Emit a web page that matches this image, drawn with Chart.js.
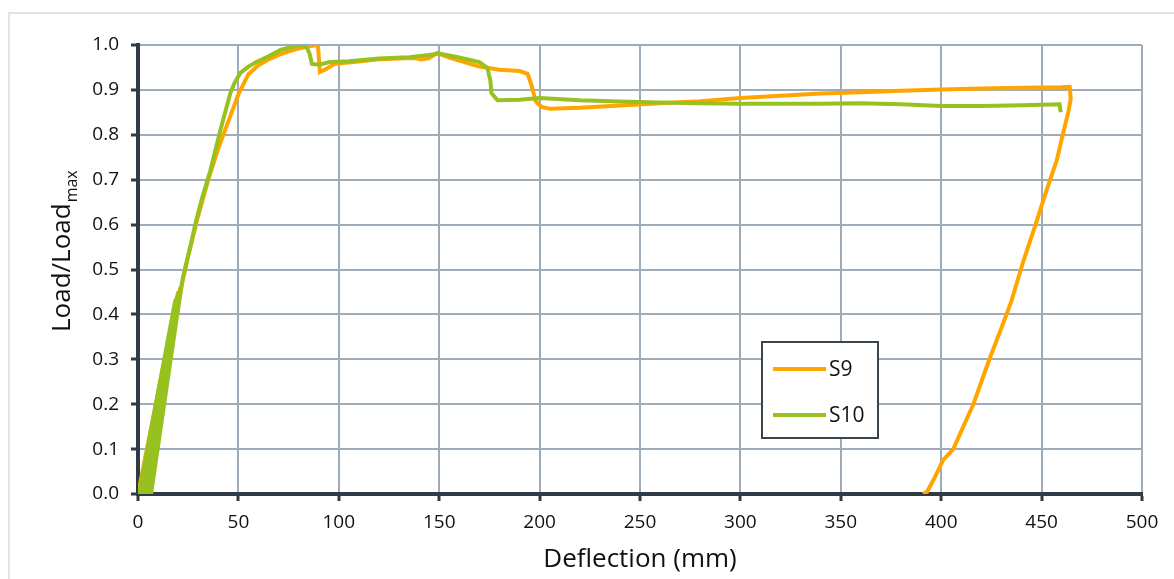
<!DOCTYPE html>
<html>
<head>
<meta charset="utf-8">
<script src="https://cdn.jsdelivr.net/npm/chart.js@4.4.1/dist/chart.umd.min.js"></script>
<style>
  html, body { margin: 0; padding: 0; background: #fff; }
  #wrap { position: relative; width: 1174px; height: 579px; }
  #frame { position: absolute; left: 8px; top: 12px; right: -4px; bottom: -4px; border: 2px solid #dfe3e7; }
  canvas { position: absolute; left: 0; top: 0; }
</style>
</head>
<body>
<div id="wrap">
  <div id="frame"></div>
  <canvas id="chart" width="1174" height="579"></canvas>
</div>
<script>
// S9 - deflection (mm) and load ratio
const s9X = [0, 20, 2, 20.5, 3.5, 21, 4.5, 22, 25, 30, 35, 40, 45, 50, 55, 60, 65, 70, 75, 80, 85, 89.6,
  90.6, 93, 98, 110, 120, 130, 138, 141, 145, 149, 155, 160, 170, 180, 190, 194, 196, 198, 201, 205,
  220, 240, 260, 280, 300, 320, 340, 360, 380, 400, 420, 440, 460, 464, 464.5, 463.5, 460, 457.6,
  452, 447, 441, 435, 430, 424, 420, 416, 411, 406, 401, 396, 393, 391];
const s9Y = [0, 0.45, 0, 0.45, 0, 0.46, 0, 0.47, 0.53, 0.62, 0.7, 0.77, 0.83, 0.89, 0.935, 0.955, 0.968, 0.978, 0.986, 0.992, 0.997, 1.0,
  0.94, 0.945, 0.958, 0.963, 0.968, 0.97, 0.971, 0.968, 0.971, 0.982, 0.972, 0.965, 0.952, 0.945, 0.942, 0.936, 0.91, 0.875, 0.862, 0.858,
  0.86, 0.865, 0.87, 0.875, 0.882, 0.887, 0.892, 0.895, 0.898, 0.901, 0.903, 0.905, 0.906, 0.907, 0.88, 0.855, 0.79, 0.744,
  0.67, 0.6, 0.52, 0.43, 0.37, 0.3, 0.25, 0.2, 0.15, 0.1, 0.076, 0.03, 0.005, 0];

// S10
const s10X = [0.5, 18.5, 1.5, 19, 2.5, 19.5, 3.5, 20, 4.5, 20.5, 5.5, 21, 6.5, 21.5, 22.4, 26, 29, 32, 36, 41, 46, 48, 51, 55, 59, 65, 71, 76, 80.7,
  84, 85.5, 86.6, 90, 95.6, 105, 120, 135, 145, 150, 160, 170, 174, 175.5, 176, 179, 190, 200, 220,
  240, 260, 280, 300, 320, 340, 360, 380, 400, 420, 440, 459, 459.5];
const s10Y = [0, 0.43, 0, 0.435, 0, 0.44, 0, 0.445, 0, 0.45, 0, 0.455, 0, 0.46, 0.483, 0.55, 0.61, 0.66, 0.72, 0.81, 0.893, 0.915, 0.938, 0.952, 0.962, 0.975, 0.989, 0.995, 1.0,
  0.995, 0.98, 0.958, 0.956, 0.962, 0.964, 0.97, 0.973, 0.978, 0.981, 0.972, 0.962, 0.949, 0.92, 0.893, 0.877, 0.878, 0.882, 0.877,
  0.874, 0.872, 0.87, 0.869, 0.869, 0.869, 0.87, 0.868, 0.864, 0.864, 0.866, 0.868, 0.85];

const xTicks = [0, 50, 100, 150, 200, 250, 300, 350, 400, 450, 500];
const yTicks = [0, 0.1, 0.2, 0.3, 0.4, 0.5, 0.6, 0.7, 0.8, 0.9, 1.0];

const toPoints = (xs, ys) => xs.map((x, i) => ({ x: x, y: ys[i] }));

const axisColor = '#2e3a46';
const gridColor = '#9eacb9';
const fontFamily = '"Open Sans", "DejaVu Sans", sans-serif';

// axis titles drawn by hand so that "max" can be a subscript
const titlesPlugin = {
  id: 'titles',
  afterDraw(chart) {
    const ctx = chart.ctx;
    const area = chart.chartArea;
    ctx.save();
    ctx.fillStyle = '#111';
    ctx.font = '26px ' + fontFamily;
    ctx.textAlign = 'center';
    ctx.textBaseline = 'middle';
    ctx.fillText('Deflection (mm)', (area.left + area.right) / 2, 560);

    ctx.translate(63, 332);
    ctx.rotate(-Math.PI / 2);
    ctx.textAlign = 'left';
    ctx.textBaseline = 'middle';
    ctx.font = '26px ' + fontFamily;
    const main = 'Load/Load';
    ctx.fillText(main, 0, 0);
    const w = ctx.measureText(main).width;
    ctx.font = '16px ' + fontFamily;
    ctx.fillText('max', w + 1, 9);
    ctx.restore();
  }
};

// legend box inside the plot
const legendPlugin = {
  id: 'boxLegend',
  afterDraw(chart) {
    const ctx = chart.ctx;
    const bx = 762, by = 342, bw = 116, bh = 96;
    ctx.save();
    ctx.fillStyle = '#fff';
    ctx.fillRect(bx, by, bw, bh);
    ctx.strokeStyle = '#3a4550';
    ctx.lineWidth = 2;
    ctx.strokeRect(bx, by, bw, bh);
    chart.data.datasets.forEach((ds, i) => {
      const y = by + 27 + i * 46;
      ctx.strokeStyle = ds.borderColor;
      ctx.lineWidth = 4;
      ctx.beginPath();
      ctx.moveTo(bx + 11, y);
      ctx.lineTo(bx + 64, y);
      ctx.stroke();
      ctx.fillStyle = '#111';
      ctx.font = '21px ' + fontFamily;
      ctx.textAlign = 'left';
      ctx.textBaseline = 'middle';
      ctx.fillText(ds.label, bx + 67, y + 1);
    });
    ctx.restore();
  }
};

new Chart(document.getElementById('chart'), {
  type: 'scatter',
  data: {
    datasets: [{
      label: 'S9',
      data: toPoints(s9X, s9Y),
      showLine: true,
      borderColor: '#ffa500',
      borderWidth: 4,
      pointRadius: 0,
      tension: 0,
      order: 1
    }, {
      label: 'S10',
      data: toPoints(s10X, s10Y),
      showLine: true,
      borderColor: '#96c11f',
      borderWidth: 4,
      pointRadius: 0,
      tension: 0,
      order: 0
    }]
  },
  options: {
    responsive: false,
    animation: false,
    layout: { padding: { top: 45, right: 32, left: 0, bottom: 0 } },
    plugins: {
      legend: { display: false },
      tooltip: { enabled: false }
    },
    scales: {
      x: {
        type: 'linear',
        min: xTicks[0],
        max: xTicks[xTicks.length - 1],
        afterBuildTicks: s => { s.ticks = xTicks.map(v => ({ value: v })); },
        afterFit: s => { s.height = 85; },
        ticks: { color: '#111', font: { family: fontFamily, size: 19 }, padding: 10 },
        grid: { color: gridColor, lineWidth: 2, tickColor: axisColor, tickLength: 7, tickWidth: 3 },
        border: { color: axisColor, width: 4 }
      },
      y: {
        type: 'linear',
        min: yTicks[0],
        max: yTicks[yTicks.length - 1],
        afterBuildTicks: s => { s.ticks = yTicks.map(v => ({ value: v })); },
        afterFit: s => { s.width = 138; },
        ticks: {
          color: '#111',
          font: { family: fontFamily, size: 19 },
          padding: 12,
          callback: v => v.toFixed(1)
        },
        grid: { color: gridColor, lineWidth: 2, tickColor: axisColor, tickLength: 7, tickWidth: 3 },
        border: { color: axisColor, width: 4 }
      }
    }
  },
  plugins: [titlesPlugin, legendPlugin]
});
</script>
</body>
</html>
